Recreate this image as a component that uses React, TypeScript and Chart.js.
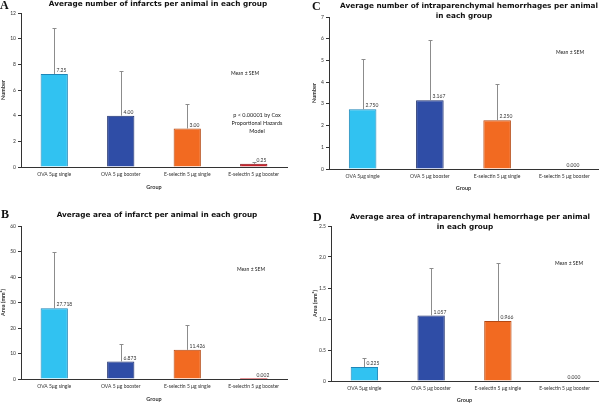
import React, { useEffect, useRef } from 'react';
import { Chart, registerables } from 'chart.js';
Chart.register(...registerables);

// ---------- data ----------
const groups = ['OVA 5μg single', 'OVA 5 μg booster', 'E-selectin 5 μg single', 'E-selectin 5 μg booster'];
const barColors = ['#31C2F1', '#2F4DA6', '#F26A21', '#C8212A'];
const barBorders = ['#1E86B8', '#1D2F6E', '#B44812', '#8C1218'];

const infarctCount = [7.25, 4.0, 3.0, 0.25];
const infarctCountSem = [3.58, 3.5, 1.93, 0.17];
const infarctCountTicks = { max: 12, step: 2 };

const hemorrhageCount = [2.75, 3.167, 2.25, 0.0];
const hemorrhageCountSem = [2.3, 2.78, 1.66, 0];
const hemorrhageCountTicks = { max: 7, step: 1 };

const infarctArea = [27.718, 6.873, 11.426, 0.002];
const infarctAreaSem = [22.2, 6.93, 9.77, 0];
const infarctAreaTicks = { max: 60, step: 10 };

const hemorrhageArea = [0.225, 1.057, 0.966, 0.0];
const hemorrhageAreaSem = [0.152, 0.77, 0.94, 0];
const hemorrhageAreaTicks = { max: 2.5, step: 0.5 };

const TITLE_FONT = 'bold 7.3px "DejaVu Sans"';
const SMALL = 'Lato';

type Txt = { text: string; x: number; y: number; font: string; align?: CanvasTextAlign; color?: string };

type PanelDef = {
  left: number; top: number; width: number; height: number;
  values: number[]; sems: number[]; decimals: number;
  ticks: { max: number; step: number };
  yTitle: string;
  pad: { left: number; right: number; top: number; bottom: number };
  yWidth: number; xHeight: number;
  texts: Txt[];
};

const panels: PanelDef[] = [
  {
    left: 0, top: 0, width: 300, height: 200,
    values: infarctCount, sems: infarctCountSem, decimals: 2, ticks: infarctCountTicks,
    yTitle: 'Number',
    pad: { left: 0, right: 13, top: 13, bottom: 9 }, yWidth: 21, xHeight: 24,
    texts: [
      { text: 'A', x: 0, y: 9, font: 'bold 12px "Liberation Serif"', align: 'left', color: '#111' },
      { text: 'Average number of infarcts per animal in each group', x: 158, y: 4, font: TITLE_FONT, color: '#111' },
      { text: 'Mean ± SEM', x: 245, y: 73, font: `5px ${SMALL}` },
      { text: 'p < 0.00001 by Cox', x: 257, y: 115, font: `5.5px ${SMALL}` },
      { text: 'Proportional Hazards', x: 257, y: 123, font: `5.5px ${SMALL}` },
      { text: 'Model', x: 257, y: 131, font: `5.5px ${SMALL}` },
    ],
  },
  {
    left: 300, top: 0, width: 300, height: 200,
    values: hemorrhageCount, sems: hemorrhageCountSem, decimals: 3, ticks: hemorrhageCountTicks,
    yTitle: 'Number',
    pad: { left: 11, right: 2, top: 17, bottom: 8 }, yWidth: 18, xHeight: 23,
    texts: [
      { text: 'C', x: 12, y: 10, font: 'bold 12px "Liberation Serif"', align: 'left', color: '#111' },
      { text: 'Average number of intraparenchymal hemorrhages per animal', x: 169, y: 6.5, font: TITLE_FONT, color: '#111' },
      { text: 'in each group', x: 164, y: 16, font: TITLE_FONT, color: '#111' },
      { text: 'Mean ± SEM', x: 270, y: 52, font: `5px ${SMALL}` },
    ],
  },
  {
    left: 0, top: 200, width: 300, height: 204,
    values: infarctArea, sems: infarctAreaSem, decimals: 3, ticks: infarctAreaTicks,
    yTitle: 'Area (mm²)',
    pad: { left: 0, right: 13, top: 26, bottom: 1 }, yWidth: 21, xHeight: 24,
    texts: [
      { text: 'B', x: 1, y: 18, font: 'bold 12px "Liberation Serif"', align: 'left', color: '#111' },
      { text: 'Average area of infarct per animal in each group', x: 157, y: 15, font: TITLE_FONT, color: '#111' },
      { text: 'Mean ± SEM', x: 251, y: 69, font: `5px ${SMALL}` },
    ],
  },
  {
    left: 300, top: 200, width: 300, height: 204,
    values: hemorrhageArea, sems: hemorrhageAreaSem, decimals: 3, ticks: hemorrhageAreaTicks,
    yTitle: 'Area (mm²)',
    pad: { left: 12, right: 2, top: 26, bottom: 0 }, yWidth: 19, xHeight: 23,
    texts: [
      { text: 'D', x: 13, y: 21, font: 'bold 12px "Liberation Serif"', align: 'left', color: '#111' },
      { text: 'Average area of intraparenchymal hemorrhage per animal', x: 170, y: 17, font: TITLE_FONT, color: '#111' },
      { text: 'in each group', x: 165, y: 27, font: TITLE_FONT, color: '#111' },
      { text: 'Mean ± SEM', x: 269, y: 63, font: `5px ${SMALL}` },
    ],
  },
];

const overlayPlugin = {
  id: 'overlay',
  afterDatasetsDraw(chart: any, _args: any, opts: any) {
    const p: PanelDef = opts.panel;
    if (!p) return;
    const { ctx } = chart;
    const meta = chart.getDatasetMeta(0);
    const ys = chart.scales.y;
    ctx.save();
    meta.data.forEach((bar: any, i: number) => {
      const v = p.values[i];
      const e = p.sems[i];
      const x = Math.round(bar.x) + 0.5;
      const yTop = ys.getPixelForValue(v);
      if (e > 0) {
        const yE = Math.round(ys.getPixelForValue(v + e)) + 0.5;
        ctx.strokeStyle = '#8c8c8c';
        ctx.lineWidth = 1;
        ctx.beginPath();
        ctx.moveTo(x, yTop);
        ctx.lineTo(x, yE);
        ctx.moveTo(x - 2, yE);
        ctx.lineTo(x + 2, yE);
        ctx.stroke();
      }
      ctx.fillStyle = '#333';
      ctx.font = `5px ${SMALL}`;
      ctx.textAlign = 'left';
      ctx.textBaseline = 'bottom';
      ctx.fillText(v.toFixed(p.decimals), x + 2, yTop - 1);
    });
    ctx.restore();
  },
  afterDraw(chart: any, _args: any, opts: any) {
    const p: PanelDef = opts.panel;
    if (!p) return;
    const { ctx } = chart;
    ctx.save();
    p.texts.forEach((t) => {
      ctx.font = t.font;
      ctx.fillStyle = t.color || '#222';
      ctx.textAlign = t.align || 'center';
      ctx.textBaseline = t.align === 'left' ? 'alphabetic' : 'middle';
      ctx.fillText(t.text, t.x, t.y);
    });
    ctx.restore();
  },
};

function Panel({ def }: { def: PanelDef }) {
  const ref = useRef<HTMLCanvasElement>(null);
  useEffect(() => {
    if (!ref.current) return;
    const chart = new Chart(ref.current, {
      type: 'bar',
      data: {
        labels: groups,
        datasets: [
          {
            data: def.values,
            backgroundColor: barColors,
            borderColor: barBorders,
            borderWidth: (c: any) => ((c.raw as number) / def.ticks.max < 0.005 ? 0 : 1),
            categoryPercentage: 1,
            barPercentage: 0.41,
          },
        ],
      },
      options: {
        animation: false,
        responsive: false,
        devicePixelRatio: 1,
        layout: { padding: def.pad },
        plugins: {
          legend: { display: false },
          tooltip: { enabled: false },
          title: { display: false },
          overlay: { panel: def },
        } as any,
        scales: {
          x: {
            grid: { display: false, drawTicks: false, tickLength: 0 },
            border: { display: true, color: '#333', width: 1 },
            ticks: { font: { family: SMALL, size: 5 }, color: '#333', padding: 4, maxRotation: 0, autoSkip: false },
            title: { display: true, text: 'Group', font: { family: SMALL, size: 5.5, weight: 'bold' }, color: '#333', padding: 0 },
            afterFit: (s: any) => { s.height = def.xHeight; },
          },
          y: {
            min: 0,
            max: def.ticks.max,
            grid: { display: true, drawOnChartArea: false, drawTicks: true, tickLength: 3, color: '#333' },
            border: { display: true, color: '#333', width: 1 },
            ticks: { stepSize: def.ticks.step, font: { family: SMALL, size: 5 }, color: '#333', padding: 2 },
            title: { display: true, text: def.yTitle, font: { family: SMALL, size: 5.5, weight: 'bold' }, color: '#333', padding: 0 },
            afterFit: (s: any) => { s.width = def.yWidth; },
          },
        },
      },
      plugins: [overlayPlugin],
    });
    return () => chart.destroy();
  }, [def]);
  return (
    <div style={{ position: 'absolute', left: def.left, top: def.top, width: def.width, height: def.height }}>
      <canvas ref={ref} width={def.width} height={def.height} style={{ display: 'block' }} />
    </div>
  );
}

export default function App() {
  return (
    <div style={{ position: 'absolute', left: 0, top: 0, width: 600, height: 404, background: '#fff', overflow: 'hidden' }}>
      {panels.map((p, i) => (
        <Panel key={i} def={p} />
      ))}
    </div>
  );
}
